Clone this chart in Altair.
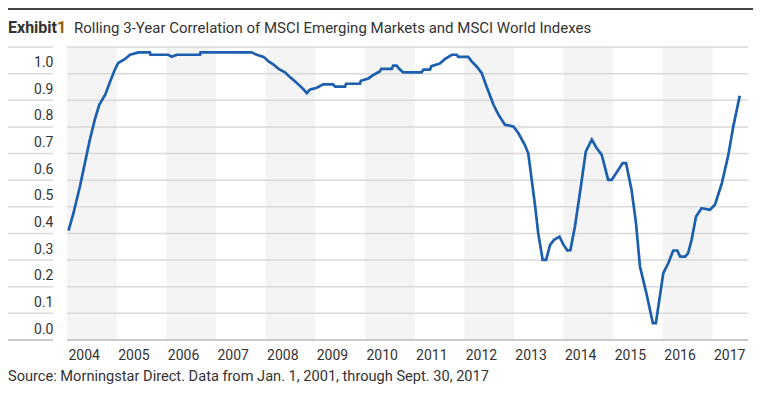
import altair as alt
import pandas as pd

# ---------------- data ----------------
TITLE_LEAD = "Exhibit"
TITLE_NUM = "1"
TITLE = "Rolling 3-Year Correlation of MSCI Emerging Markets and MSCI World Indexes"
SOURCE = "Source: Morningstar Direct. Data from Jan. 1, 2001, through Sept. 30, 2017"

years = [2004, 2005, 2006, 2007, 2008, 2009, 2010, 2011, 2012, 2013, 2014, 2015, 2016, 2017]
band_years = [2004, 2006, 2008, 2010, 2012, 2014, 2016]
y_grid = [0.0, 0.1, 0.2, 0.3, 0.4, 0.5, 0.6, 0.7, 0.8, 0.9, 1.0, 1.1]
y_labels = [0.0, 0.1, 0.2, 0.3, 0.4, 0.5, 0.6, 0.7, 0.8, 0.9, 1.0]

date = [2004.03, 2004.13, 2004.26, 2004.36, 2004.46, 2004.56, 2004.65, 2004.77, 2004.87, 2004.95,
        2005.03, 2005.17, 2005.27, 2005.44, 2005.67, 2005.68, 2006.04, 2006.11, 2006.21, 2006.68,
        2006.69, 2007.72, 2007.82, 2007.96, 2008.06, 2008.16, 2008.26, 2008.39, 2008.49, 2008.63,
        2008.76, 2008.83, 2008.89, 2009.03, 2009.16, 2009.36, 2009.40, 2009.60, 2009.62, 2009.90,
        2009.92, 2010.07, 2010.17, 2010.30, 2010.33, 2010.54, 2010.57, 2010.64, 2010.69, 2010.77,
        2011.14, 2011.18, 2011.31, 2011.34, 2011.51, 2011.61, 2011.75, 2011.85, 2011.88, 2012.08,
        2012.15, 2012.25, 2012.35, 2012.45, 2012.59, 2012.69, 2012.82, 2012.99, 2013.09, 2013.22,
        2013.29, 2013.36, 2013.43, 2013.49, 2013.58, 2013.65, 2013.73, 2013.81, 2013.92, 2014.00,
        2014.08, 2014.14, 2014.23, 2014.33, 2014.45, 2014.57, 2014.67, 2014.77, 2014.90, 2014.97,
        2015.07, 2015.19, 2015.26, 2015.37, 2015.46, 2015.54, 2015.67, 2015.80, 2015.86, 2015.93,
        2016.01, 2016.11, 2016.21, 2016.29, 2016.35, 2016.45, 2016.51, 2016.58, 2016.67, 2016.78,
        2016.95, 2017.05, 2017.19, 2017.32, 2017.42, 2017.55]
corr = [0.411, 0.476, 0.576, 0.664, 0.752, 0.827, 0.883, 0.921, 0.971, 1.009,
        1.040, 1.055, 1.071, 1.080, 1.080, 1.071, 1.071, 1.063, 1.071, 1.071,
        1.080, 1.080, 1.071, 1.063, 1.046, 1.034, 1.018, 1.005, 0.987, 0.965,
        0.942, 0.927, 0.940, 0.947, 0.960, 0.960, 0.951, 0.951, 0.962, 0.962,
        0.973, 0.982, 0.995, 1.008, 1.018, 1.018, 1.030, 1.030, 1.018, 1.005,
        1.005, 1.015, 1.015, 1.028, 1.038, 1.055, 1.071, 1.071, 1.063, 1.063,
        1.046, 1.027, 1.003, 0.952, 0.883, 0.846, 0.808, 0.802, 0.777, 0.733,
        0.701, 0.601, 0.501, 0.401, 0.301, 0.301, 0.357, 0.376, 0.388, 0.357,
        0.336, 0.338, 0.426, 0.551, 0.708, 0.752, 0.720, 0.695, 0.601, 0.601,
        0.629, 0.664, 0.664, 0.564, 0.439, 0.276, 0.175, 0.063, 0.063, 0.150,
        0.251, 0.288, 0.336, 0.336, 0.313, 0.313, 0.326, 0.376, 0.464, 0.495,
        0.489, 0.508, 0.589, 0.695, 0.802, 0.917]

# ---------------- layout / style ----------------
W, H = 681, 293
FONT = "Roboto"
TEXT = "#333333"
GRID = "#d9d9d9"
LINE = "#1b5fae"

xscale = alt.Scale(domain=[2004, 2017.716], nice=False, zero=False)
yscale = alt.Scale(domain=[0, 1.1], nice=False, zero=False)

x_axis = alt.Axis(values=years, format="d", labelAlign="left", labelOffset=1, labelPadding=8,
                  ticks=False, domain=False, grid=False, title=None,
                  labelFontSize=14, labelColor=TEXT, labelFont=FONT)
y_axis = alt.Axis(values=y_labels, format=".1f", labelOffset=-11, labelPadding=14,
                  ticks=False, domain=False, grid=False, title=None,
                  labelFontSize=14, labelColor=TEXT, labelFont=FONT)

df_line = pd.DataFrame({"date": date, "corr": corr})
df_bands = pd.DataFrame({"start": band_years, "end": [b + 1 for b in band_years]})
df_grid = pd.DataFrame({"v": y_grid})

bands = alt.Chart(df_bands).mark_rect(color="#f4f4f4").encode(
    x=alt.X("start:Q", scale=xscale, axis=x_axis),
    x2="end:Q",
    y=alt.value(0),
    y2=alt.value(H),
)

grid_color = alt.condition("datum.v == 0", alt.value("#b8b8b8"), alt.value(GRID))

grid = alt.Chart(df_grid).mark_rule(strokeWidth=1.5).encode(
    y=alt.Y("v:Q", scale=yscale, axis=y_axis),
    x=alt.value(0),
    x2=alt.value(W),
    color=grid_color,
)

grid_left = alt.Chart(df_grid).mark_rule(strokeWidth=1.5).encode(
    y=alt.Y("v:Q", scale=yscale, axis=y_axis),
    x=alt.value(-60),
    x2=alt.value(-14),
    color=grid_color,
)

line = alt.Chart(df_line).mark_line(color=LINE, strokeWidth=2.7, interpolate="linear").encode(
    x=alt.X("date:Q", scale=xscale, axis=x_axis),
    y=alt.Y("corr:Q", scale=yscale, axis=y_axis),
)

header_rule = alt.Chart(pd.DataFrame({"a": [0]})).mark_rule(color="#444444", strokeWidth=2).encode(
    x=alt.value(-59), x2=alt.value(686), y=alt.value(-38)
)

t_lead = alt.Chart(pd.DataFrame({"t": [TITLE_LEAD]})).mark_text(
    font=FONT, fontSize=16, fontWeight="bold", color="#333333", align="left", baseline="middle"
).encode(text="t:N", x=alt.value(-59), y=alt.value(-19))

t_num = alt.Chart(pd.DataFrame({"t": [TITLE_NUM]})).mark_text(
    font=FONT, fontSize=16, fontWeight="bold", color="#8a6114", align="left", baseline="middle"
).encode(text="t:N", x=alt.value(-10), y=alt.value(-19))

t_title = alt.Chart(pd.DataFrame({"t": [TITLE]})).mark_text(
    font=FONT, fontSize=15, color="#333333", align="left", baseline="middle"
).encode(text="t:N", x=alt.value(7), y=alt.value(-19))

t_source = alt.Chart(pd.DataFrame({"t": [SOURCE]})).mark_text(
    font=FONT, fontSize=14.6, color="#333333", align="left", baseline="middle"
).encode(text="t:N", x=alt.value(-59), y=alt.value(330))

chart = alt.layer(
    bands, grid, grid_left, line, header_rule, t_lead, t_num, t_title, t_source
).properties(
    width=W, height=H,
    autosize=alt.AutoSizeParams(type="none"),
    padding={"left": 59, "top": 39, "right": 12, "bottom": 52},
    background="white",
).configure_view(stroke=None)

chart.save("out.html", embed_options={"renderer": "svg", "actions": False})
